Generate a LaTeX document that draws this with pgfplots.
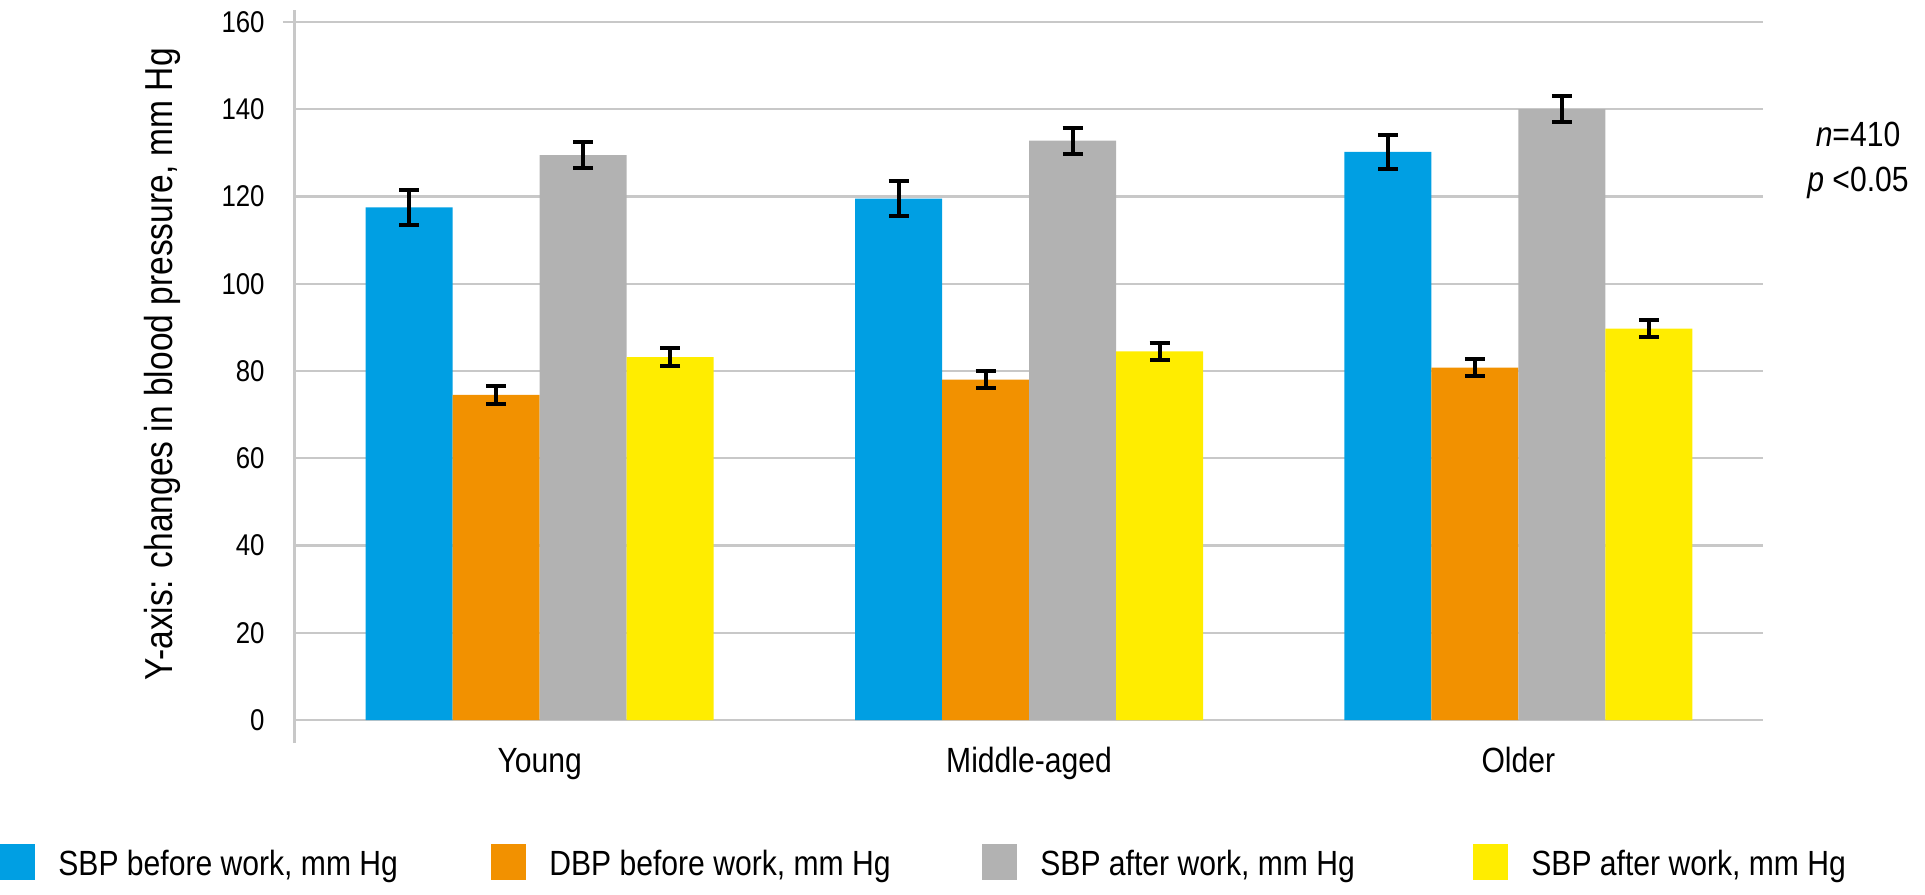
\documentclass[border=0pt]{standalone}
\usepackage{fontspec}
\setmainfont{Liberation Sans}[FakeStretch=0.86]
\usepackage{pgfplots}
\pgfplotsset{compat=1.18}
\usepackage{pgfplotstable}

\definecolor{sbpb}{HTML}{009FE3}
\definecolor{dbpb}{HTML}{F29100}
\definecolor{sbpa}{HTML}{B2B2B2}
\definecolor{yel}{HTML}{FFED00}
\definecolor{gridc}{HTML}{C8C8C8}

% x: 0 Young, 1 Middle-aged, 2 Older
\pgfplotstableread{
x y e
0 117.5 4
1 119.5 4
2 130.2 4
}\sbpbefore
\pgfplotstableread{
x y e
0 74.5 2
1 78.0 2
2 80.8 2
}\dbpbefore
\pgfplotstableread{
x y e
0 129.5 3
1 132.8 3
2 140.0 3
}\sbpafter
\pgfplotstableread{
x y e
0 83.2 2
1 84.5 2
2 89.7 2
}\sbpafterb

\begin{document}
\begin{tikzpicture}
\useasboundingbox (-147.5pt,-87pt) rectangle (815pt,360pt);
\begin{axis}[
    scale only axis, width=734pt, height=349pt,
    clip=false,
    ybar=0pt, bar width=43.5pt,
    xmin=-0.5, xmax=2.5, ymin=0, ymax=160,
    xtick={0,1,2}, xticklabels={Young,Middle-aged,Older},
    ytick={0,20,...,160},
    axis line style={draw=none},
    major tick length=0pt,
    ymajorgrids, grid style={line width=1.2pt, gridc, shorten <=-6pt},
    /pgf/number format/assume math mode=true,
    yticklabel style={font=\fontsize{15}{18}\selectfont, anchor=east, inner sep=0pt, xshift=-15pt},
    xticklabel style={font=\fontsize{17.5}{21}\selectfont, anchor=base, inner sep=0pt, yshift=-26pt},
    ylabel={Y-axis: changes in blood pressure, mm Hg},
    ylabel style={font=\fontsize{19.5}{23}\selectfont, at={(axis description cs:-0.0906,0.51)}, anchor=center},
    legend columns=4,
    legend style={at={(-0.20095,-0.2034)}, anchor=west, draw=none, fill=none,
      inner sep=0pt, font=\fontsize{17.5}{21}\selectfont, nodes={inner sep=0pt},
      /tikz/every odd column/.style={column sep=11.5pt},
      /tikz/every even column/.style={column sep=0pt}},
    legend image code/.code={\fill[#1] (0pt,-7.75pt) rectangle (17.5pt,10.25pt);},
    error bars/error bar style={draw=black, solid, line width=2pt},
    error bars/error mark options={draw=black, solid, rotate=90, mark size=5pt, line width=2pt},
]
\addplot[fill=sbpb, draw=none, error bars/.cd, y dir=both, y explicit]
    table[x=x, y=y, y error=e]{\sbpbefore};
\addlegendentry{\makebox[216.5pt][l]{SBP before work, mm Hg}}
\addplot[fill=dbpb, draw=none, error bars/.cd, y dir=both, y explicit]
    table[x=x, y=y, y error=e]{\dbpbefore};
\addlegendentry{\makebox[216.5pt][l]{DBP before work, mm Hg}}
\addplot[fill=sbpa, draw=none, error bars/.cd, y dir=both, y explicit]
    table[x=x, y=y, y error=e]{\sbpafter};
\addlegendentry{\makebox[216.5pt][l]{SBP after work, mm Hg}}
\addplot[fill=yel, draw=none, error bars/.cd, y dir=both, y explicit]
    table[x=x, y=y, y error=e]{\sbpafterb};
\addlegendentry{\makebox[216.5pt][l]{SBP after work, mm Hg}}
% y axis line, running a little past both ends
\draw[gridc, line width=1.5pt] ([yshift=-11.5pt]rel axis cs:0,0) -- ([yshift=6pt]rel axis cs:0,1);
\end{axis}
\node[align=center, font=\fontsize{17.5}{22.5}\selectfont] at (781.5pt,279.75pt)
    {\textit{n}=410\\\textit{p} {<}0.05};
\end{tikzpicture}
\end{document}
